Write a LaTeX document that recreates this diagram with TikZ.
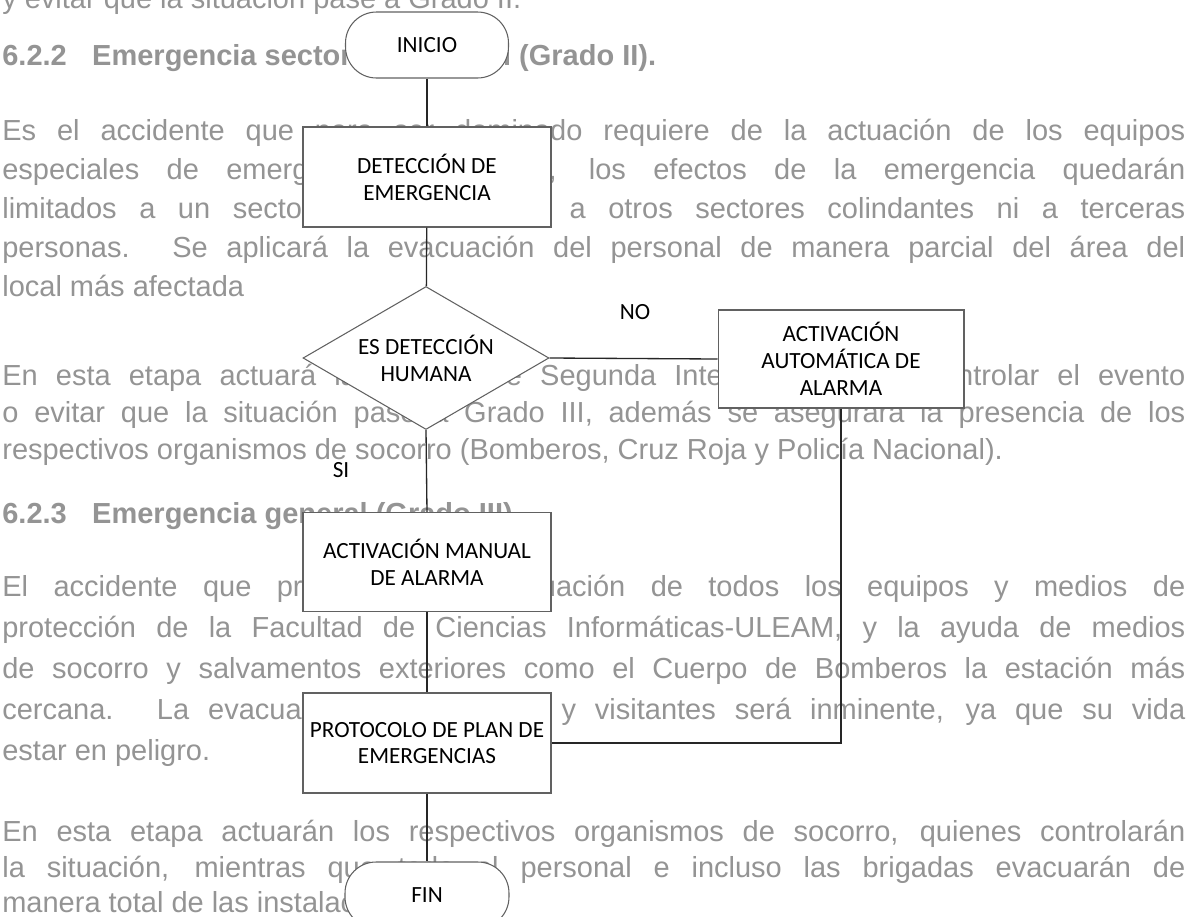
\documentclass[tikz,border=0pt]{standalone}
\usepackage{fontspec}
\setmainfont{Liberation Sans}
\newfontfamily\carl{Carlito}
\usetikzlibrary{shapes.geometric}
\newlength\pxu
\setlength\pxu{0.02cm}
\newcommand{\diagfont}{\carl\fontsize{13.2}{15.3}\selectfont}
\newcommand{\bgfont}{\fontsize{16.5}{19}\selectfont}
\newcommand{\jline}[1]{\makebox[1183\pxu][s]{#1}}
\tikzset{
  bgtext/.style={anchor=base west, inner sep=0pt, text=black!42, font=\bgfont},
  bghead/.style={bgtext, font=\bgfont\bfseries},
  proc/.style={draw=black!62, fill=white, line width=0.6pt, minimum width=4.96cm,
    minimum height=2cm, align=center, font=\diagfont, inner sep=0pt},
  term/.style={draw=black!62, fill=white, line width=0.6pt, rounded corners=0.62cm,
    minimum width=3.26cm, minimum height=1.32cm, font=\diagfont, inner sep=0pt},
  decision/.style={diamond, aspect=1.7, draw=black!62, fill=white, line width=0.6pt,
    minimum width=4.92cm, minimum height=2.86cm, align=center, font=\diagfont, inner sep=0pt},
  conn/.style={draw=black!85, line width=0.75pt},
  lbl/.style={font=\diagfont, inner sep=0pt}
}
\begin{document}
\begin{tikzpicture}[x=0.02cm, y=-0.02cm]
\useasboundingbox (0,0) rectangle (1188,917);
\clip (0,0) rectangle (1188,917);
\fill[white] (0,0) rectangle (1188,917);

% background page text
\node[bgtext] (bg0) at (2,8) {y evitar que la situación pase a Grado II.};
\node[bghead] (bg1) at (2,65) {6.2.2\hspace{0.6em} Emergencia sectorial o parcial (Grado II).};
\node[bgtext] (bg2) at (2,140) {\jline{Es el accidente que para ser dominado requiere de la actuación de los equipos}};
\node[bgtext] (bg3) at (2,179) {\jline{especiales de emergencia del sector, los efectos de la emergencia quedarán}};
\node[bgtext] (bg4) at (2,218) {\jline{limitados a un sector y no afectarán a otros sectores colindantes ni a terceras}};
\node[bgtext] (bg5) at (2,257) {\jline{personas. Se aplicará la evacuación del personal de manera parcial del área del}};
\node[bgtext] (bg6) at (2,296) {local más afectada};
\node[bgtext] (bg7) at (2,385) {\jline{En esta etapa actuará la brigada de Segunda Intervención para controlar el evento}};
\node[bgtext] (bg8) at (2,422) {\jline{o evitar que la situación pase a Grado III, además se asegurará la presencia de los}};
\node[bgtext] (bg9) at (2,459) {respectivos organismos de socorro (Bomberos, Cruz Roja y Policía Nacional).};
\node[bghead] (bg10) at (2,523) {6.2.3\hspace{0.6em} Emergencia general (Grado III).};
\node[bgtext] (bg11) at (2,596) {\jline{El accidente que precisa de la actuación de todos los equipos y medios de}};
\node[bgtext] (bg12) at (2,637) {\jline{protección de la Facultad de Ciencias Informáticas-ULEAM, y la ayuda de medios}};
\node[bgtext] (bg13) at (2,678) {\jline{de socorro y salvamentos exteriores como el Cuerpo de Bomberos la estación más}};
\node[bgtext] (bg14) at (2,719) {\jline{cercana. La evacuación del personal y visitantes será inminente, ya que su vida}};
\node[bgtext] (bg15) at (2,760) {estar en peligro.};
\node[bgtext] (bg16) at (2,841) {\jline{En esta etapa actuarán los respectivos organismos de socorro, quienes controlarán}};
\node[bgtext] (bg17) at (2,877) {\jline{la situación, mientras que todo el personal e incluso las brigadas evacuarán de}};
\node[bgtext] (bg18) at (2,912) {manera total de las instalaciones.};

% flowchart
\node[term] (inicio) at (427,45) {INICIO};
\node[proc] (det) at (427,177) {DETECCIÓN DE\\EMERGENCIA};
\node[decision] (dia) at (426,358) {ES DETECCIÓN\\HUMANA};
\node[proc, minimum width=4.92cm, minimum height=1.96cm] (auto) at (841,359) {ACTIVACIÓN\\AUTOMÁTICA DE\\ALARMA};
\node[proc, minimum height=1.98cm] (manual) at (427,562) {ACTIVACIÓN MANUAL\\DE ALARMA};
\node[proc] (proto) at (427,743) {PROTOCOLO DE PLAN DE\\EMERGENCIAS};
\node[term, minimum width=3.28cm] (fin) at (427,895) {FIN};

\node[lbl] (no) at (635,312) {NO};
\node[lbl] (si) at (341,470) {SI};

\draw[conn] (inicio) -- (det);
\draw[conn] (det) -- (dia);
\draw[conn] (dia.east) -- (auto.west);
\draw[conn] (dia.south) -- (manual.north);
\draw[conn] (manual) -- (proto);
\draw[conn] (proto) -- (fin);
\draw[conn] (auto.south) |- (proto.east);
\end{tikzpicture}
\end{document}
